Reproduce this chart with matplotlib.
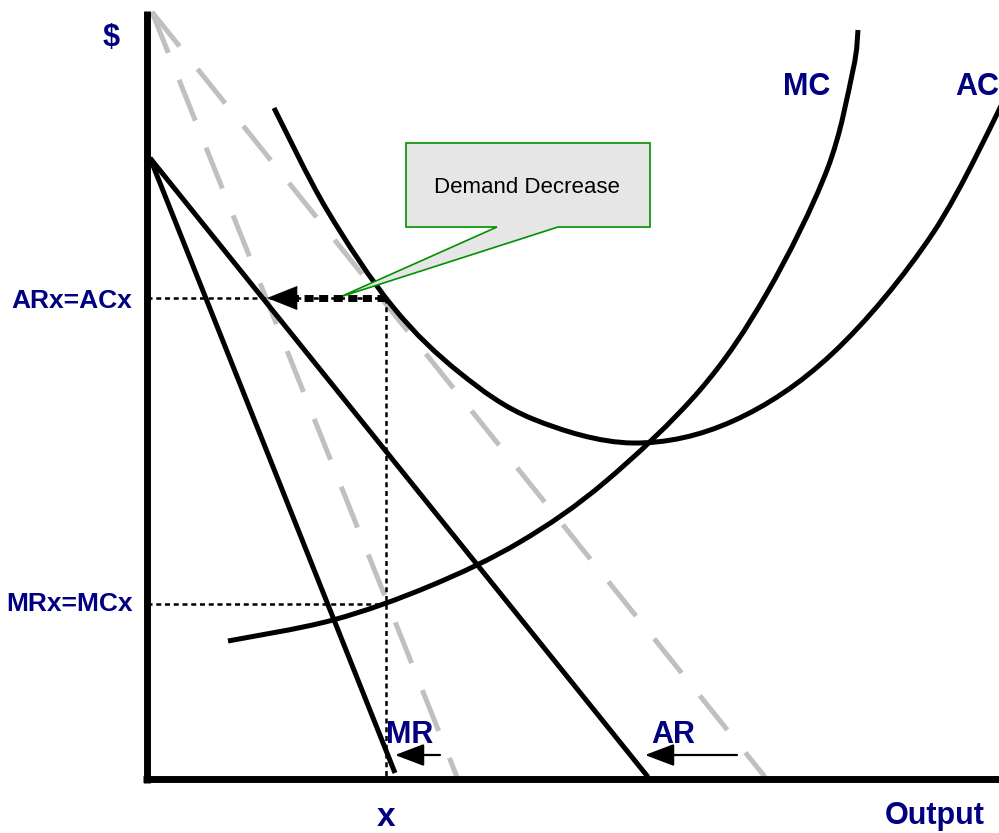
import matplotlib
matplotlib.use("Agg")
import matplotlib.pyplot as plt
from matplotlib.patches import Polygon, PathPatch
from matplotlib.path import Path
from matplotlib import font_manager

# canvas units follow the picture: x to the right, y downwards (0..999, 0..833)
W, H = 999, 833

# axes of the diagram
y_axis_x, y_axis_top = 147, 11
x_axis_y, x_axis_right = 779, 999

# new (lower) demand: AR and MR share the intercept
ar_x = [150, 648]
ar_y = [158, 777]
mr_x = [150, 395]
mr_y = [158, 773]

# old demand (grey dashes)
ar_old_x = [152, 765]
ar_old_y = [12, 777]
mr_old_x = [152, 457]
mr_old_y = [12, 777]

# cost curves
mc_x = [228, 333, 430, 520, 605, 700, 767, 827, 853, 858]
mc_y = [641, 620, 586, 542, 482, 390, 293, 170, 70, 30]
ac_x = [274, 327, 393, 460, 533, 633, 733, 833, 933, 1010]
ac_y = [108, 210, 307, 373, 419, 443, 421, 353, 233, 88]

# equilibrium guides
q_x = 386
p_ar = 298
p_mr = 604

# callout
box = [(406, 143), (650, 143), (650, 227), (558, 227), (340, 297), (497, 227), (406, 227)]

fonts = {f.name for f in font_manager.fontManager.ttflist}
sans = "Liberation Sans" if "Liberation Sans" in fonts else "DejaVu Sans"
navy = "#000080"


def smooth_path(xs, ys):
    # Catmull-Rom through the read points, drawn as cubic Bezier segments
    pts = list(zip(xs, ys))
    verts = [pts[0]]
    codes = [Path.MOVETO]
    for i in range(len(pts) - 1):
        p0 = pts[max(i - 1, 0)]
        p1 = pts[i]
        p2 = pts[i + 1]
        p3 = pts[min(i + 2, len(pts) - 1)]
        c1 = (p1[0] + (p2[0] - p0[0]) / 6, p1[1] + (p2[1] - p0[1]) / 6)
        c2 = (p2[0] - (p3[0] - p1[0]) / 6, p2[1] - (p3[1] - p1[1]) / 6)
        verts += [c1, c2, p2]
        codes += [Path.CURVE4] * 3
    return Path(verts, codes)


fig = plt.figure(figsize=(W / 100, H / 100), dpi=100)
ax = fig.add_axes([0, 0, 1, 1])
ax.set_xlim(0, W)
ax.set_ylim(H, 0)
ax.axis("off")

# grey dashed old demand
for xs, ys in [(ar_old_x, ar_old_y), (mr_old_x, mr_old_y)]:
    ax.plot(xs, ys, color="#c0c0c0", lw=3.6, dashes=(8.8, 5.8), zorder=2)

# dotted guides
dot = dict(color="black", lw=1.8, dashes=(2.0, 1.5), zorder=3)
ax.plot([y_axis_x, q_x], [p_ar, p_ar], **dot)
ax.plot([y_axis_x, q_x], [p_mr, p_mr], **dot)
ax.plot([q_x, q_x], [p_ar, x_axis_y], **dot)

# demand curves
for xs, ys in [(ar_x, ar_y), (mr_x, mr_y)]:
    ax.plot(xs, ys, color="black", lw=3.6, solid_capstyle="butt", zorder=4)

# cost curves
for xs, ys in [(mc_x, mc_y), (ac_x, ac_y)]:
    ax.add_patch(PathPatch(smooth_path(xs, ys), fill=False, edgecolor="black", lw=3.6,
                           capstyle="butt", zorder=4))

# axes
ax.plot([y_axis_x, y_axis_x], [y_axis_top, x_axis_y + 4], color="black", lw=5, solid_capstyle="butt", zorder=5)
ax.plot([y_axis_x - 4, x_axis_right], [x_axis_y, x_axis_y], color="black", lw=5, solid_capstyle="butt", zorder=5)

# callout box
ax.add_patch(Polygon(box, closed=True, facecolor="#e6e6e6", edgecolor="#009000", lw=1.2, zorder=6))
ax.text(527, 193, "Demand Decrease", family=sans, fontsize=16, ha="center", va="baseline", zorder=7)

# thick dashed arrow to the left
ax.plot([q_x, 296], [p_ar, p_ar], color="black", lw=5, dashes=(1.3, 0.8), zorder=6)
ax.annotate("", xy=(267, p_ar), xytext=(298, p_ar),
            arrowprops=dict(arrowstyle="-|>,head_length=1.08,head_width=0.43", color="black", lw=0.1,
                            mutation_scale=20, shrinkA=0, shrinkB=0), zorder=7)

# small shift arrows
for x0, x1 in [(440, 395), (737, 645)]:
    ax.annotate("", xy=(x1, 755), xytext=(x0, 755),
                arrowprops=dict(arrowstyle="-|>,head_length=1.0,head_width=0.38", color="black", lw=1.6,
                                mutation_scale=18, shrinkA=0, shrinkB=0), zorder=7)

lab = dict(family=sans, weight="bold", color=navy, va="baseline")
ax.text(111, 46, "$", fontsize=22, ha="center", **lab)
ax.text(807, 95, "MC", fontsize=22, ha="center", **lab)
ax.text(977, 95, "AC", fontsize=22, ha="center", **lab)
ax.text(72, 308, "ARx=ACx", fontsize=19, ha="center", **lab)
ax.text(70, 611, "MRx=MCx", fontsize=19, ha="center", **lab)
ax.text(410, 743, "MR", fontsize=22, ha="center", **lab)
ax.text(673, 743, "AR", fontsize=22, ha="center", **lab)
ax.text(386, 826, "x", fontsize=24, ha="center", **lab)
ax.text(935, 824, "Output", fontsize=22, ha="center", **lab)

fig.savefig("out.png", dpi=100)
